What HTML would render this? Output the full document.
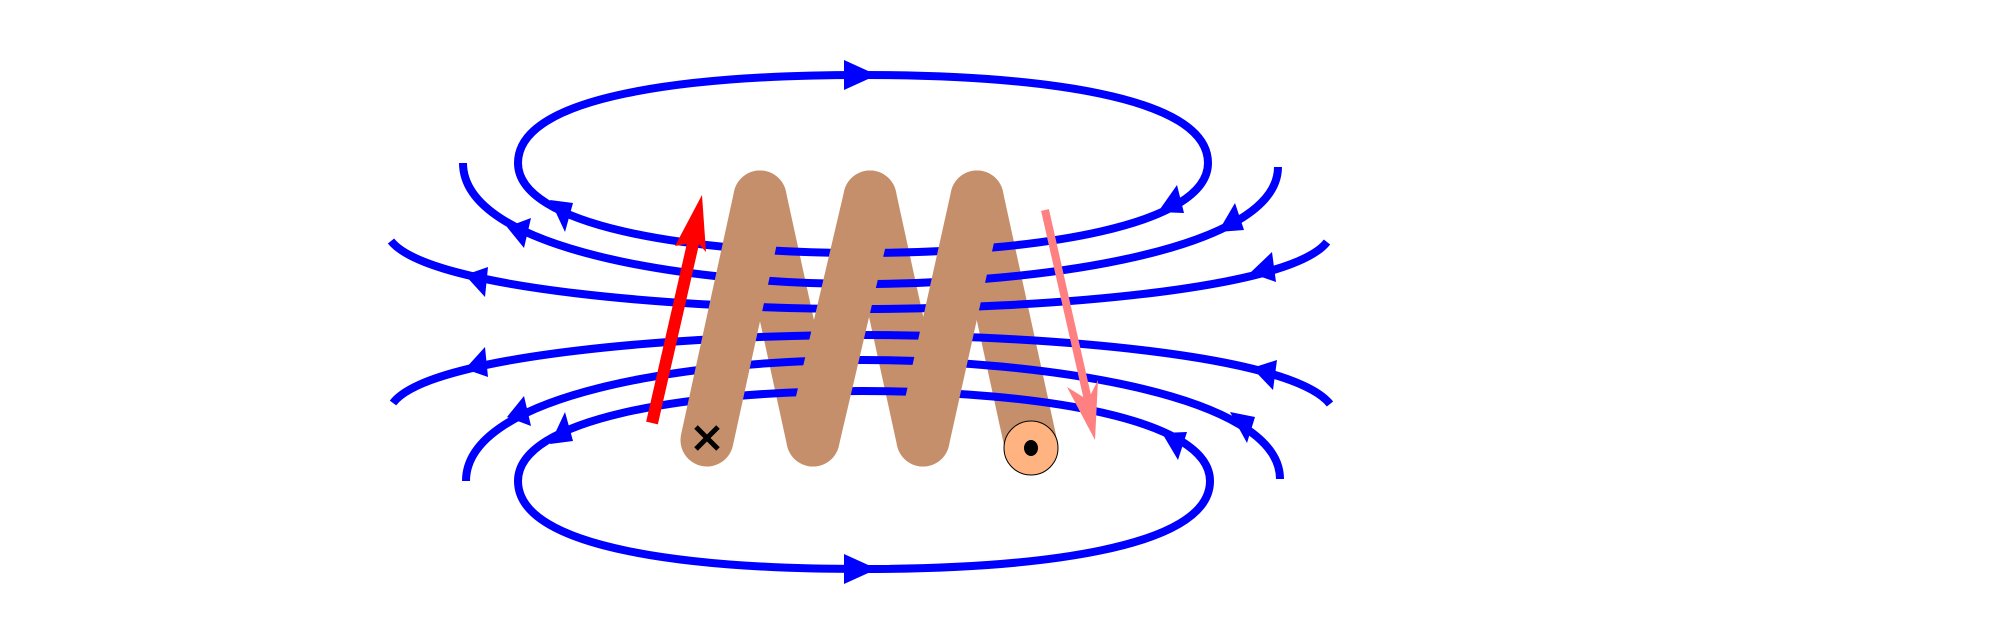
<!DOCTYPE html>
<html><head><meta charset="utf-8"><style>html,body{margin:0;padding:0;background:#fff}svg{display:block}</style></head>
<body>
<svg width="2000" height="628" viewBox="0 0 2000 628" xmlns="http://www.w3.org/2000/svg">
<!-- coil down-strokes (behind) -->
<g stroke="#c68f6b" stroke-width="53" stroke-linecap="round" fill="none">
<line x1="760" y1="197" x2="813" y2="440"/>
<line x1="870" y1="197" x2="923" y2="440"/>
<line x1="977" y1="197" x2="1030" y2="440"/>
</g>
<!-- field lines -->
<g stroke="#0000ff" stroke-width="8" fill="none">
<path d="M518,163 C518,95 690,75 862,75 C1034,75 1208,95 1208,163 C1208,225 1040,253 862,253 C684,253 518,225 518,163 Z"/>
<path d="M518,481 C518,549 690,569 862,569 C1034,569 1210,549 1210,481 C1210,419 1040,391 862,391 C684,391 518,419 518,481 Z"/>
<path d="M463,163 C463,250 690,284 862,284 C1040,284 1278,250 1278,167"/>
<path d="M466,481 C466,394 690,360 862,360 C1040,360 1280,394 1280,479"/>
<path d="M391,241 C430,290 690,309 862,309 C1040,309 1290,290 1327,242"/>
<path d="M393,403 C430,354 690,335 862,335 C1040,335 1290,354 1330,404"/>
</g>
<!-- arrowheads -->
<g fill="#0000ff">
<polygon points="877,75 844,60 844,90"/>
<polygon points="877,569 844,554 844,584"/>
<polygon points="550,200 573,203 565,232"/>
<polygon points="507,227 531,218 524,248"/>
<polygon points="465,275 488,267 485,297"/>
<polygon points="465,369 488,377 485,347"/>
<polygon points="507,417 531,426 524,396"/>
<polygon points="550,444 573,441 565,412"/>
<polygon points="1158,212 1177,185 1184,213"/>
<polygon points="1218,232 1235,203 1244,230"/>
<polygon points="1250,273 1272,252 1276,282"/>
<polygon points="1252,368 1277,360 1273,390"/>
<polygon points="1230,412 1255,417 1247,443"/>
<polygon points="1162,433 1187,432 1178,460"/>
</g>
<!-- coil up-strokes (front) -->
<g stroke="#c68f6b" stroke-width="53" stroke-linecap="round" fill="none">
<line x1="707" y1="440" x2="760" y2="197"/>
<line x1="813" y1="440" x2="870" y2="197"/>
<line x1="923" y1="440" x2="977" y2="197"/>
</g>
<!-- cross -->
<g stroke="#000" stroke-width="5">
<line x1="696" y1="427" x2="718" y2="449"/>
<line x1="718" y1="427" x2="696" y2="449"/>
</g>
<!-- end circle -->
<circle cx="1031" cy="448" r="27" fill="#ffb380" stroke="#000" stroke-width="1"/>
<ellipse cx="1031" cy="448" rx="7" ry="8" fill="#000"/>
<!-- red arrow -->
<line x1="652" y1="423" x2="695" y2="235" stroke="#ff0000" stroke-width="12"/>
<path d="M702,195 L706,252 L697,242 L675,246 Z" fill="#ff0000"/>
<!-- pink arrow -->
<line x1="1045" y1="210" x2="1088" y2="400" stroke="#ff8080" stroke-width="8"/>
<path d="M1095,440 L1067,387 L1088,400 L1098,380 Z" fill="#ff8080"/>
</svg>
</body></html>
